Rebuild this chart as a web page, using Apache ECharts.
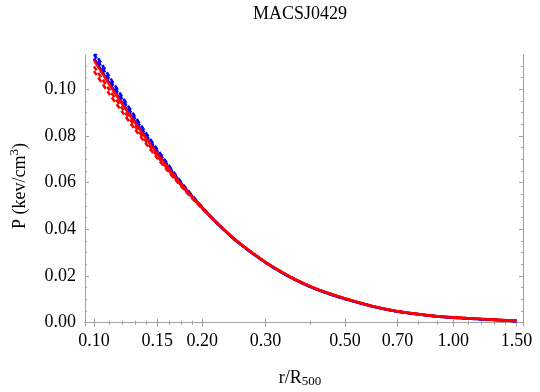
<!DOCTYPE html>
<html>
<head>
<meta charset="utf-8">
<script src="https://cdn.jsdelivr.net/npm/echarts@6/dist/echarts.min.js"></script>
<style>html,body{margin:0;padding:0;background:#fff}#c{width:540px;height:392px}</style>
</head>
<body>
<div id="c"></div>
<script>
var titleText = 'MACSJ0429';
var rValues = [0.10,0.11,0.12,0.13,0.14,0.15,0.16,0.17,0.18,0.20,0.22,0.25,0.30,0.35,0.40,0.45,0.50,0.60,0.70,0.80,0.90,1.00,1.20,1.50];
var blueSolid = [0.1132,0.1030,0.0941,0.0862,0.0791,0.0727,0.0670,0.0618,0.0571,0.0492,0.0426,0.0348,0.0258,0.0197,0.0154,0.0124,0.0102,0.0069,0.0048,0.0036,0.0027,0.0022,0.0015,0.0007];
var blueDashA = [0.1162,0.1058,0.0966,0.0884,0.0810,0.0743,0.0682,0.0627,0.0578,0.0496,0.0428,0.0349,0.0258,0.0197,0.0154,0.0124,0.0102,0.0069,0.0048,0.0036,0.0027,0.0022,0.0015,0.0007];
var blueDashB = [0.1150,0.1047,0.0956,0.0875,0.0802,0.0736,0.0677,0.0623,0.0575,0.0494,0.0427,0.0348,0.0258,0.0197,0.0154,0.0124,0.0102,0.0069,0.0048,0.0036,0.0027,0.0022,0.0015,0.0007];
var redSolid = [0.1125,0.1024,0.0936,0.0858,0.0788,0.0725,0.0668,0.0617,0.0571,0.0493,0.0428,0.0350,0.0260,0.0199,0.0156,0.0126,0.0104,0.0070,0.0049,0.0037,0.0028,0.0023,0.0016,0.0008];
var redDashA = [0.1098,0.1001,0.0917,0.0842,0.0775,0.0714,0.0660,0.0611,0.0567,0.0491,0.0427,0.0350,0.0260,0.0199,0.0156,0.0126,0.0104,0.0070,0.0049,0.0037,0.0028,0.0023,0.0016,0.0008];
var redDashB = [0.1078,0.0983,0.0902,0.0829,0.0764,0.0705,0.0653,0.0606,0.0563,0.0489,0.0426,0.0349,0.0260,0.0199,0.0156,0.0126,0.0104,0.0070,0.0049,0.0037,0.0028,0.0023,0.0016,0.0008];
var xMajorTicks = [0.10,0.15,0.20,0.30,0.50,0.70,1.00,1.50];
var xMinorTicks = [0.11,0.12,0.13,0.14,0.1625,0.175,0.1875,0.40,0.80,0.90,1.10,1.20,1.30,1.40];
var yMajorTicks = [0.00,0.02,0.04,0.06,0.08,0.10];
var yMinorTicks = [0.005,0.01,0.015,0.025,0.03,0.035,0.045,0.05,0.055,0.065,0.07,0.075,0.085,0.09,0.095,0.105,0.11];

var XMIN = 0.0944, XMAX = 1.564, YMIN = -0.0014, YMAX = 0.1147;
var FONT = 'Liberation Serif';
var AX = '#a0a0a0';

function pairs(vals){ return rValues.map(function(r,i){ return [r, vals[i]]; }); }

function xAxisDef(pos, ticks, len, labels, showLine){
  return {
    type: 'log', logBase: 10, min: XMIN, max: XMAX, position: pos,
    axisLine: {show: showLine, lineStyle: {color: AX, width: 1}},
    axisTick: {show: true, inside: true, length: len, customValues: ticks, lineStyle: {color: AX, width: 1}},
    axisLabel: labels ? {show: true, customValues: ticks, margin: 6, color: '#000', fontFamily: FONT, fontSize: 18,
      formatter: function(v){ return Number(v).toFixed(2); }} : {show: false},
    splitLine: {show: false}, minorTick: {show: false}, minorSplitLine: {show: false}
  };
}
function yAxisDef(pos, ticks, len, labels, showLine){
  return {
    type: 'value', min: YMIN, max: YMAX, position: pos,
    axisLine: {show: showLine, lineStyle: {color: AX, width: 1}},
    axisTick: {show: true, inside: true, length: len, customValues: ticks, lineStyle: {color: AX, width: 1}},
    axisLabel: labels ? {show: true, customValues: ticks, margin: 9, color: '#000', fontFamily: FONT, fontSize: 18,
      formatter: function(v){ return Number(v).toFixed(2); }} : {show: false},
    splitLine: {show: false}
  };
}
function line(name, vals, color, dashed){
  return {
    name: name, type: 'line', xAxisIndex: 0, yAxisIndex: 0, data: pairs(vals),
    showSymbol: false, smooth: 0.3, silent: true, animation: false,
    lineStyle: {color: color, width: 2.6, type: dashed ? [5, 3] : 'solid'}
  };
}

var chart = echarts.init(document.getElementById('c'), null, {renderer: 'canvas'});
chart.setOption({
  animation: false,
  backgroundColor: '#fff',
  grid: {left: 85, right: 17, top: 55, bottom: 66, containLabel: false},
  xAxis: [
    xAxisDef('bottom', xMajorTicks, 4, true, true),
    xAxisDef('bottom', xMinorTicks, 2, false, false),
    xAxisDef('top', xMajorTicks, 4, false, true),
    xAxisDef('top', xMinorTicks, 2, false, false)
  ],
  yAxis: [
    yAxisDef('left', yMajorTicks, 4, true, true),
    yAxisDef('left', yMinorTicks, 2, false, false),
    yAxisDef('right', yMajorTicks, 4, false, true),
    yAxisDef('right', yMinorTicks, 2, false, false)
  ],
  series: [
    line('blue dash A', blueDashA, '#0000ff', true),
    line('blue dash B', blueDashB, '#0000ff', true),
    line('blue solid', blueSolid, '#0000ff', false),
    line('red dash A', redDashA, '#ff0000', true),
    line('red dash B', redDashB, '#ff0000', true),
    line('red solid', redSolid, '#ff0000', false)
  ],
  graphic: [
    {type: 'text', x: 300, y: 14, style: {text: titleText, align: 'center', verticalAlign: 'middle', fontFamily: FONT, fontSize: 18, fill: '#000'}},
    {type: 'text', x: 300, y: 378, style: {
      text: '{n|r/R}{s|500}', align: 'center', verticalAlign: 'middle',
      rich: {n: {fontFamily: FONT, fontSize: 18, fill: '#000'}, s: {fontFamily: FONT, fontSize: 13, fill: '#000', padding: [8, 0, 0, 0]}}
    }},
    {type: 'text', x: 20, y: 186, rotation: Math.PI / 2, style: {
      text: '{n|P (kev/cm}{s|3}{n|)}', align: 'center', verticalAlign: 'middle',
      rich: {n: {fontFamily: FONT, fontSize: 18, fill: '#000'}, s: {fontFamily: FONT, fontSize: 13, fill: '#000', padding: [0, 0, 10, 0]}}
    }}
  ]
});
</script>
</body>
</html>
